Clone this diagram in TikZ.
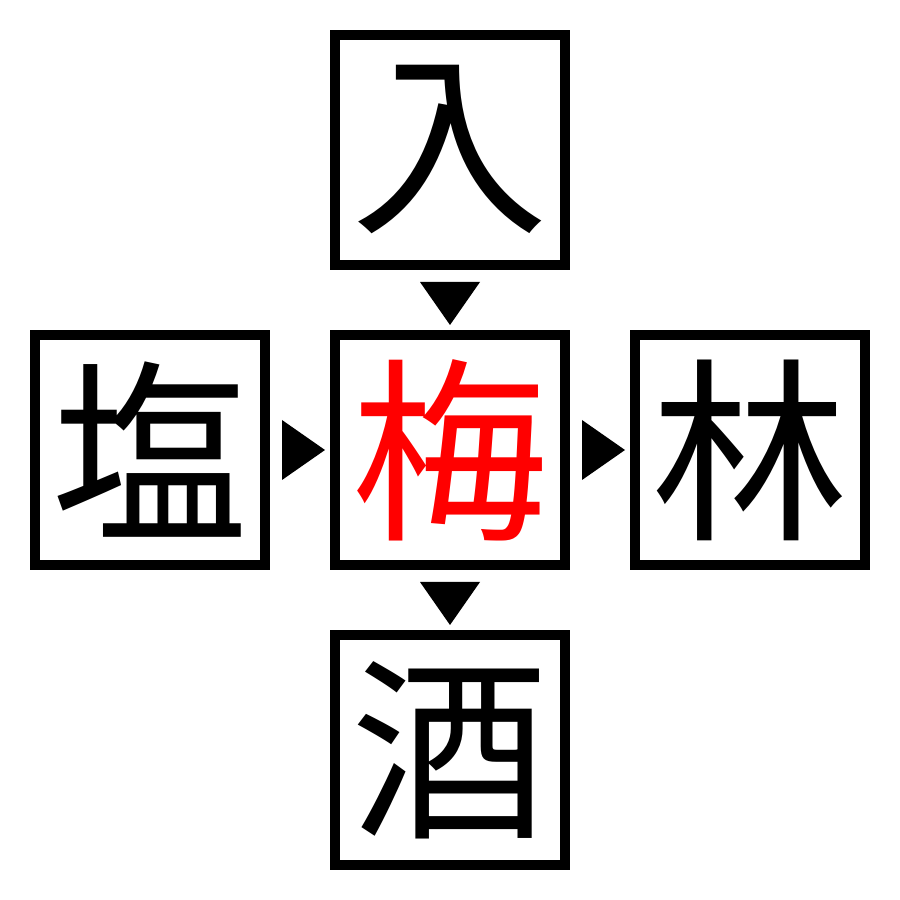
\documentclass[tikz,border=0pt]{standalone}
\usepackage{fontspec}
\newfontfamily\kanji{Noto Sans CJK JP}
\usetikzlibrary{positioning,calc}
\begin{document}
\begin{tikzpicture}[kbox/.style={draw,line width=1mm,minimum size=2.3cm,inner sep=0pt,
        font=\kanji\fontsize{56}{56}\selectfont},
    tip/.style={fill=black}]
    \useasboundingbox (0,0) rectangle (9,9);
    \node [kbox,text=red] (ume) at (4.5,4.5) {梅};
    \node [kbox,above=0.6cm of ume] (iri) {入};
    \node [kbox,below=0.6cm of ume] (sake) {酒};
    \node [kbox,left=0.6cm of ume] (shio) {塩};
    \node [kbox,right=0.6cm of ume] (hayashi) {林};
    % arrows into and out of the centre
    \fill [tip] ($(ume.north)+(0,0.05)$) -- ++(-0.3,0.43) -- ++(0.6,0) -- cycle;
    \fill [tip] ($(sake.north)+(0,0.05)$) -- ++(-0.3,0.43) -- ++(0.6,0) -- cycle;
    \fill [tip] ($(ume.west)+(-0.05,0)$) -- ++(-0.43,0.3) -- ++(0,-0.6) -- cycle;
    \fill [tip] ($(hayashi.west)+(-0.05,0)$) -- ++(-0.43,0.3) -- ++(0,-0.6) -- cycle;
\end{tikzpicture}
\end{document}
